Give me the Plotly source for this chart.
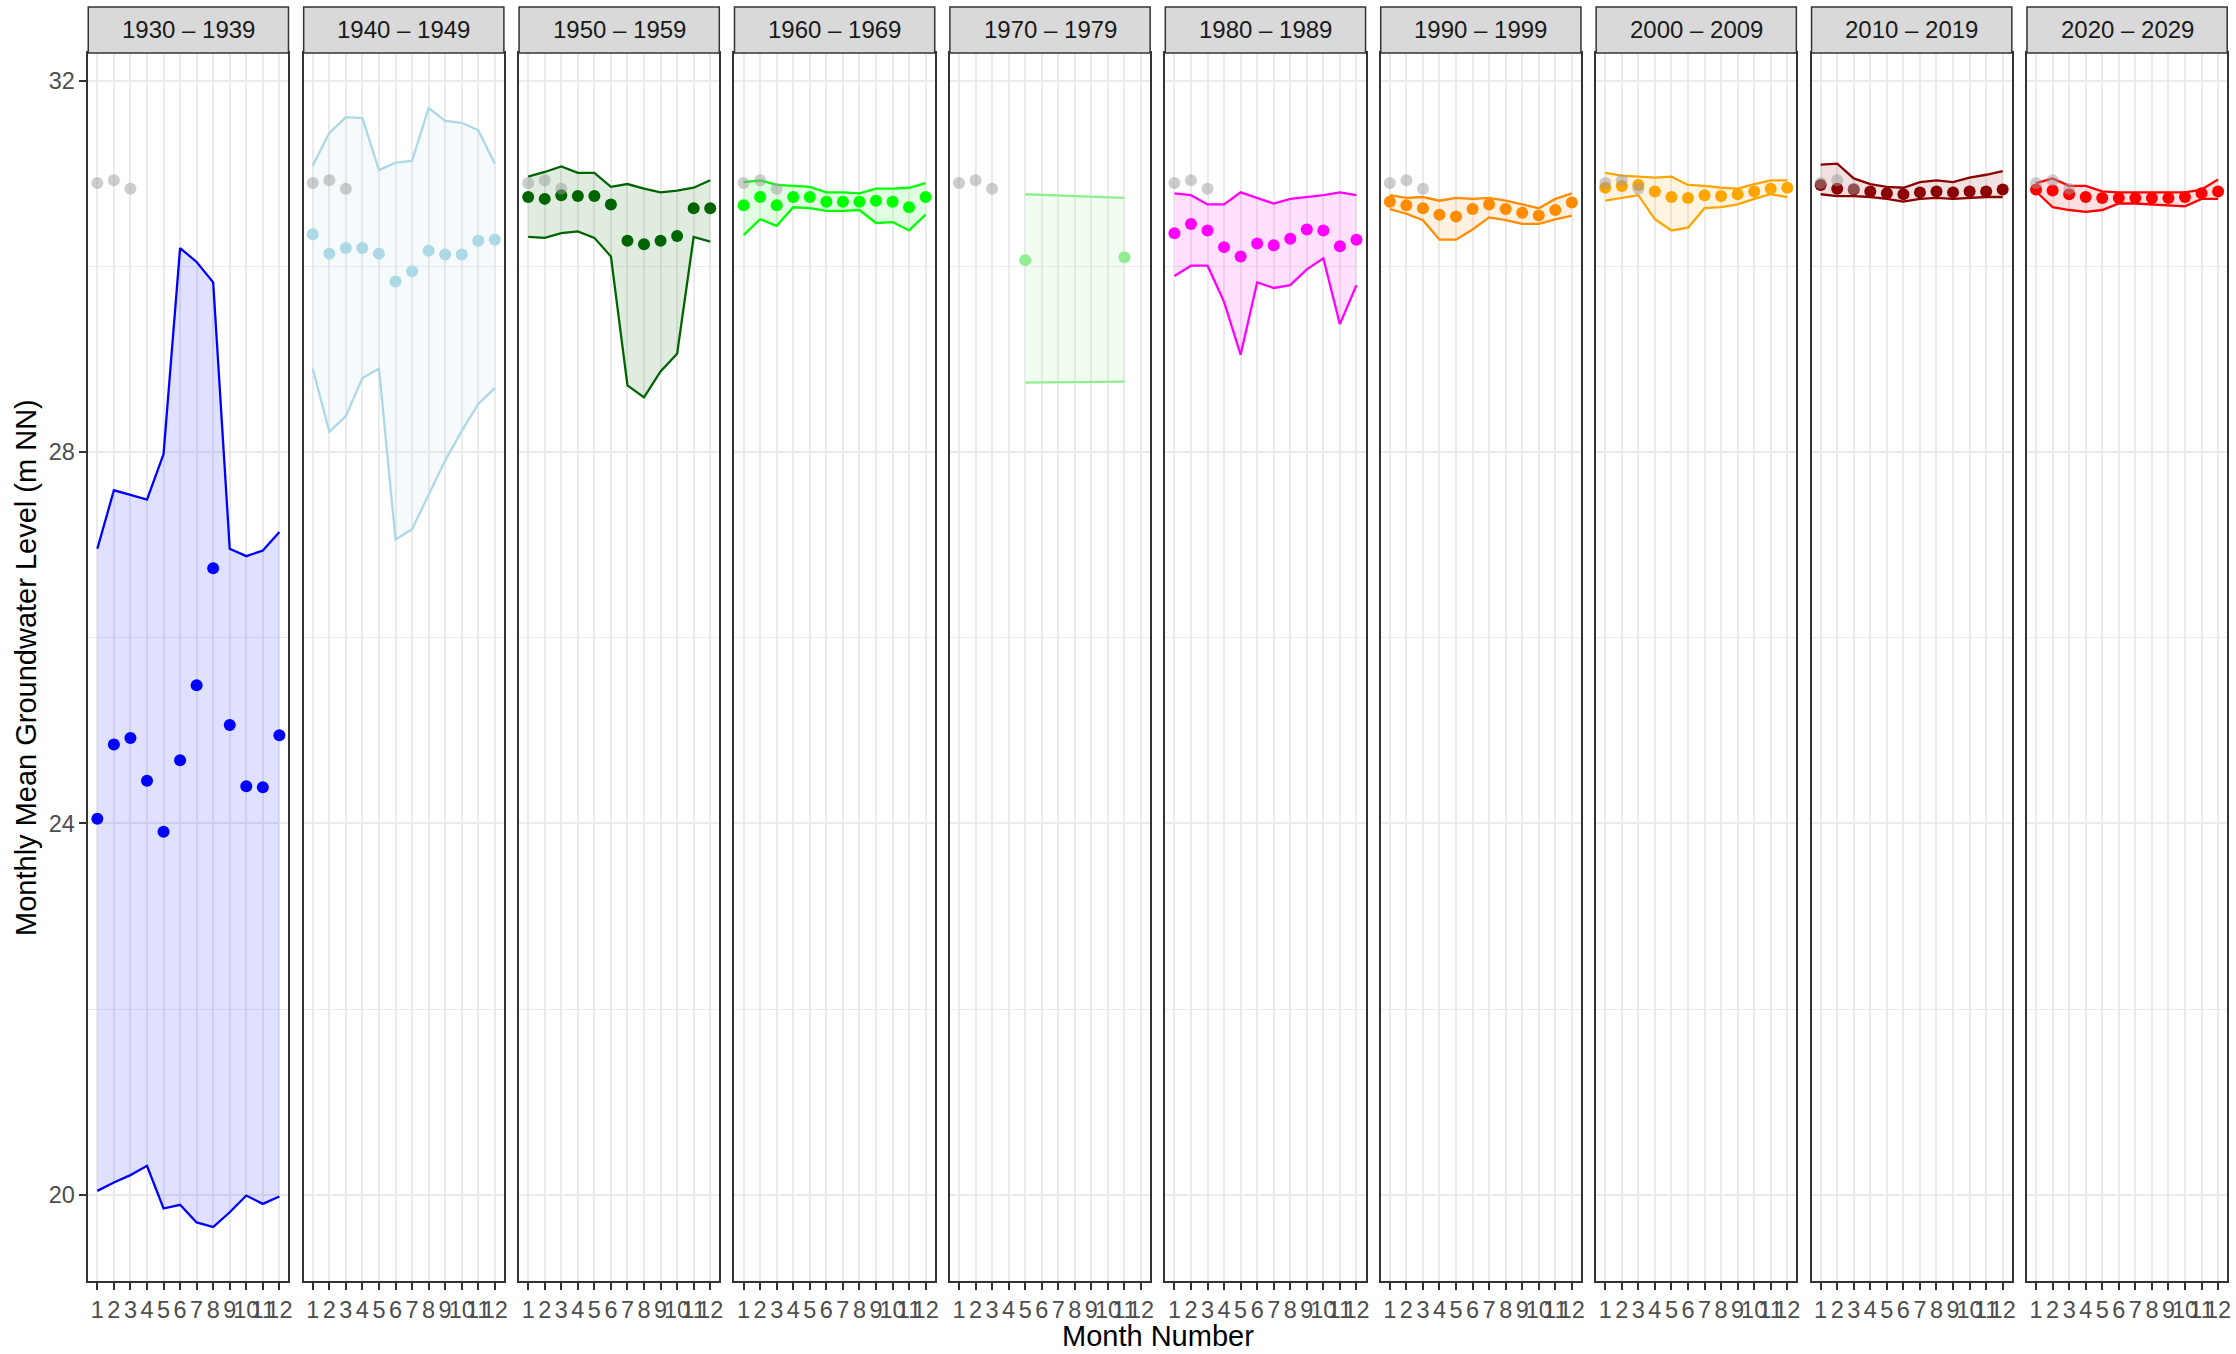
import plotly.graph_objects as go
from plotly.subplots import make_subplots

# ---------------- data ----------------
months = list(range(1, 13))
month_labels = [str(m) for m in months]
y_ticks = [20, 24, 28, 32]
y_minor = [22, 26, 30]

decades = ["1930 – 1939", "1940 – 1949", "1950 – 1959", "1960 – 1969", "1970 – 1979",
           "1980 – 1989", "1990 – 1999", "2000 – 2009", "2010 – 2019", "2020 – 2029"]
colors = ["#0000FF", "#ADD8E6", "#006400", "#00FF00", "#90EE90",
          "#FF00FF", "#FF8C00", "#FFA500", "#8B0000", "#FF0000"]

# current-year reference points (shown grey in every panel)
ref_months = [1, 2, 3]
ref_values = [30.90, 30.93, 30.84]

months_1930 = months
mean_1930 = [24.05, 24.85, 24.92, 24.46, 23.91, 24.68, 25.49, 26.75, 25.06, 24.40, 24.39, 24.95]
max_1930 = [26.96, 27.59, 27.54, 27.49, 27.98, 30.20, 30.05, 29.83, 26.96, 26.88, 26.94, 27.14]
min_1930 = [20.04, 20.13, 20.21, 20.31, 19.85, 19.89, 19.70, 19.65, 19.81, 19.99, 19.90, 19.98]

months_1940 = months
mean_1940 = [30.35, 30.14, 30.20, 30.20, 30.14, 29.84, 29.95, 30.17, 30.13, 30.13, 30.28, 30.29]
max_1940 = [31.09, 31.44, 31.61, 31.60, 31.04, 31.12, 31.14, 31.71, 31.57, 31.55, 31.47, 31.11]
min_1940 = [28.90, 28.22, 28.39, 28.80, 28.90, 27.06, 27.17, 27.54, 27.91, 28.23, 28.52, 28.69]

months_1950 = months
mean_1950 = [30.75, 30.73, 30.77, 30.76, 30.76, 30.67, 30.28, 30.24, 30.28, 30.33, 30.63, 30.63]
max_1950 = [30.97, 31.02, 31.08, 31.01, 31.01, 30.86, 30.89, 30.84, 30.80, 30.82, 30.85, 30.93]
min_1950 = [30.32, 30.31, 30.36, 30.38, 30.31, 30.11, 28.72, 28.59, 28.87, 29.06, 30.32, 30.27]

months_1960 = months
mean_1960 = [30.66, 30.75, 30.66, 30.75, 30.75, 30.70, 30.70, 30.70, 30.71, 30.70, 30.64, 30.75]
max_1960 = [30.91, 30.93, 30.88, 30.87, 30.86, 30.80, 30.80, 30.79, 30.84, 30.84, 30.85, 30.90]
min_1960 = [30.34, 30.51, 30.44, 30.64, 30.63, 30.60, 30.60, 30.61, 30.47, 30.48, 30.39, 30.56]

months_1970 = [5, 11]
mean_1970 = [30.07, 30.10]
max_1970 = [30.78, 30.74]
min_1970 = [28.75, 28.76]

months_1980 = months
mean_1980 = [30.36, 30.46, 30.39, 30.21, 30.11, 30.25, 30.23, 30.30, 30.40, 30.39, 30.22, 30.29]
max_1980 = [30.79, 30.77, 30.67, 30.67, 30.80, 30.74, 30.68, 30.73, 30.75, 30.77, 30.80, 30.77]
min_1980 = [29.90, 30.01, 30.01, 29.62, 29.05, 29.83, 29.77, 29.80, 29.97, 30.09, 29.38, 29.80]

months_1990 = months
mean_1990 = [30.70, 30.66, 30.63, 30.56, 30.54, 30.62, 30.67, 30.62, 30.58, 30.55, 30.61, 30.69]
max_1990 = [30.77, 30.74, 30.75, 30.71, 30.74, 30.73, 30.74, 30.71, 30.67, 30.63, 30.73, 30.79]
min_1990 = [30.62, 30.57, 30.50, 30.29, 30.29, 30.40, 30.53, 30.50, 30.46, 30.46, 30.51, 30.55]

months_2000 = months
mean_2000 = [30.85, 30.87, 30.88, 30.81, 30.75, 30.74, 30.77, 30.76, 30.78, 30.81, 30.84, 30.85]
max_2000 = [31.01, 30.98, 30.97, 30.96, 30.97, 30.88, 30.87, 30.85, 30.84, 30.89, 30.93, 30.93]
min_2000 = [30.71, 30.74, 30.77, 30.51, 30.39, 30.42, 30.63, 30.64, 30.67, 30.73, 30.78, 30.75]

months_2010 = months
mean_2010 = [30.88, 30.84, 30.83, 30.81, 30.79, 30.78, 30.80, 30.81, 30.80, 30.81, 30.81, 30.83]
max_2010 = [31.10, 31.11, 30.95, 30.89, 30.86, 30.85, 30.91, 30.93, 30.91, 30.96, 30.99, 31.03]
min_2010 = [30.78, 30.76, 30.76, 30.75, 30.73, 30.70, 30.73, 30.74, 30.73, 30.74, 30.75, 30.75]

months_2020 = months
mean_2020 = [30.83, 30.82, 30.78, 30.75, 30.74, 30.74, 30.74, 30.74, 30.74, 30.75, 30.79, 30.81]
max_2020 = [30.90, 30.95, 30.87, 30.87, 30.81, 30.80, 30.80, 30.80, 30.80, 30.80, 30.83, 30.94]
min_2020 = [30.81, 30.64, 30.61, 30.59, 30.61, 30.68, 30.68, 30.67, 30.66, 30.65, 30.73, 30.73]

panels = [
    (months_1930, mean_1930, max_1930, min_1930),
    (months_1940, mean_1940, max_1940, min_1940),
    (months_1950, mean_1950, max_1950, min_1950),
    (months_1960, mean_1960, max_1960, min_1960),
    (months_1970, mean_1970, max_1970, min_1970),
    (months_1980, mean_1980, max_1980, min_1980),
    (months_1990, mean_1990, max_1990, min_1990),
    (months_2000, mean_2000, max_2000, min_2000),
    (months_2010, mean_2010, max_2010, min_2010),
    (months_2020, mean_2020, max_2020, min_2020),
]

# ---------------- layout geometry ----------------
W, H = 2236, 1354
FONT = "Liberation Sans, Arial, Helvetica, sans-serif"
panel_left0 = 88.4
panel_step = 215.8
panel_w = 200.6
panel_top = 53.0
panel_bottom = 1281.0
strip_top = 7.0


def rgba(hexc, a):
    h = hexc.lstrip("#")
    r, g, b = int(h[0:2], 16), int(h[2:4], 16), int(h[4:6], 16)
    return f"rgba({r},{g},{b},{a})"


fig = make_subplots(rows=1, cols=10, shared_yaxes=True, horizontal_spacing=0.005)

for i, (mx, mean, hi, lo) in enumerate(panels):
    col = i + 1
    c = colors[i]
    # ribbon
    fig.add_trace(go.Scatter(x=list(mx) + list(mx)[::-1], y=list(hi) + list(lo)[::-1],
                             fill="toself", fillcolor=rgba(c, 0.12), mode="lines",
                             line=dict(width=0, color=rgba(c, 0)), hoverinfo="skip"),
                  row=1, col=col)
    fig.add_trace(go.Scatter(x=mx, y=hi, mode="lines", line=dict(color=c, width=2.3)), row=1, col=col)
    fig.add_trace(go.Scatter(x=mx, y=lo, mode="lines", line=dict(color=c, width=2.3)), row=1, col=col)
    fig.add_trace(go.Scatter(x=mx, y=mean, mode="markers",
                             marker=dict(color=c, size=12, line=dict(width=0))), row=1, col=col)
    fig.add_trace(go.Scatter(x=ref_months, y=ref_values, mode="markers",
                             marker=dict(color="rgba(155,155,155,0.5)", size=12, line=dict(width=0))),
                  row=1, col=col)

for i in range(10):
    left = panel_left0 + i * panel_step
    right = left + panel_w
    dom = [left / W, right / W]
    fig.update_xaxes(domain=dom, range=[0.45, 12.55], tickmode="array", tickvals=months,
                     ticktext=month_labels, tickangle=0, showgrid=True, gridcolor="#EBEBEB", gridwidth=2,
                     zeroline=False, ticks="outside", ticklen=7, tickwidth=1.5, tickcolor="#333333",
                     tickfont=dict(family=FONT, size=23.5, color="#4D4D4D"),
                     showline=True, mirror=True, linecolor="#333333", linewidth=1.5,
                     row=1, col=i + 1)
    # strip
    fig.add_shape(type="rect", xref="paper", yref="paper",
                  x0=left / W, x1=right / W, y0=1 - panel_top / H, y1=1 - strip_top / H,
                  fillcolor="#D9D9D9", line=dict(color="#333333", width=1.5), layer="above")
    fig.add_annotation(x=(left + right) / 2 / W, y=1 - (panel_top + strip_top) / 2 / H,
                       xref="paper", yref="paper", text=decades[i], showarrow=False,
                       font=dict(family=FONT, size=24, color="#1A1A1A"),
                       xanchor="center", yanchor="middle")

fig.update_yaxes(domain=[1 - panel_bottom / H, 1 - panel_top / H], range=[19.069, 32.302],
                 tickmode="array", tickvals=y_ticks, ticktext=[str(v) for v in y_ticks],
                 showgrid=True, gridcolor="#EBEBEB", gridwidth=2, zeroline=False,
                 minor=dict(tickvals=y_minor, showgrid=True, gridcolor="#EBEBEB", gridwidth=1.2),
                 showline=True, mirror=True, linecolor="#333333", linewidth=1.5,
                 tickfont=dict(family=FONT, size=23.5, color="#4D4D4D"))
fig.update_yaxes(ticks="outside", ticklen=7, tickwidth=1.5, tickcolor="#333333", row=1, col=1)

fig.add_annotation(x=(panel_left0 + 9 * panel_step + panel_w + panel_left0) / 2 / W, y=1 - 1336 / H,
                   xref="paper", yref="paper", text="Month Number", showarrow=False,
                   font=dict(family=FONT, size=29, color="#000000"), xanchor="center", yanchor="middle")
fig.add_annotation(x=26 / W, y=1 - (panel_top + panel_bottom) / 2 / H,
                   xref="paper", yref="paper", text="Monthly Mean Groundwater Level (m NN)",
                   showarrow=False, textangle=-90,
                   font=dict(family=FONT, size=29, color="#000000"), xanchor="center", yanchor="middle")

fig.update_layout(width=W, height=H, margin=dict(l=0, r=0, t=0, b=0),
                  plot_bgcolor="white", paper_bgcolor="white", showlegend=False)

fig.write_html("out.html", config={"displayModeBar": False},
               post_script="document.body.style.margin='0px';")
